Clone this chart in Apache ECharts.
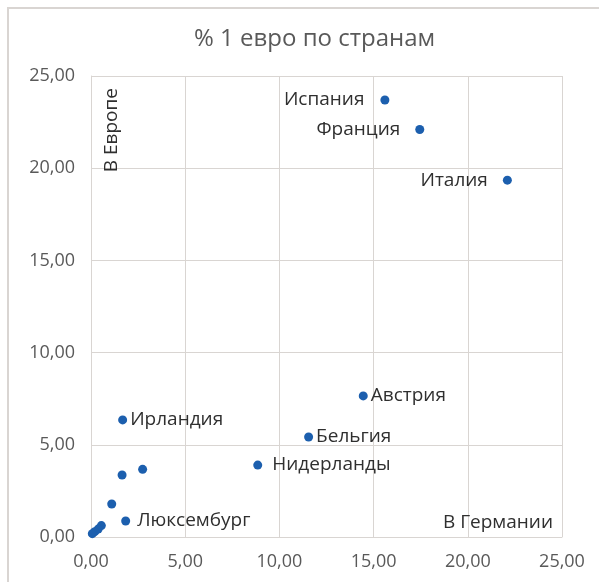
<!DOCTYPE html>
<html>
<head>
<meta charset="utf-8">
<script src="https://cdn.jsdelivr.net/npm/echarts@6/dist/echarts.min.js"></script>
<style>
  html, body { margin: 0; padding: 0; background: #ffffff; }
  #chart { width: 599px; height: 582px; }
</style>
</head>
<body>
<div id="chart"></div>
<script>
// Share of the 1-euro coin by country: x = in Germany, y = in Europe (%)
const countries = ['Испания', 'Франция', 'Италия', 'Австрия', 'Бельгия', 'Нидерланды', 'Ирландия', 'Люксембург',
                   '', '', '', '', '', '', ''];
const inGermany = [15.60, 17.45, 22.10, 14.45, 11.55, 8.85, 1.68, 1.84,
                   1.65, 2.74, 1.10, 0.55, 0.38, 0.20, 0.07];
const inEurope  = [23.70, 22.10, 19.35, 7.65, 5.42, 3.90, 6.35, 0.87,
                   3.36, 3.67, 1.79, 0.62, 0.43, 0.29, 0.18];
const axisTicks = [0, 5, 10, 15, 20, 25];

// label placement for the named points
const labelPlacement = {
  'Испания':    { position: 'left',  distance: 16 },
  'Франция':    { position: 'left',  distance: 15 },
  'Италия':     { position: 'left',  distance: 15 },
  'Австрия':    { position: 'right', distance: 3 },
  'Бельгия':    { position: 'right', distance: 3 },
  'Нидерланды': { position: 'right', distance: 10 },
  'Ирландия':   { position: 'right', distance: 3 },
  'Люксембург': { position: 'right', distance: 7 }
};

const points = countries.map((name, i) => {
  const item = { name: name, value: [inGermany[i], inEurope[i]] };
  if (name) {
    item.label = Object.assign({ show: true, formatter: '{b}' }, labelPlacement[name]);
  }
  return item;
});

const fmt = v => v.toFixed(2).replace('.', ',');
const FONT = '"Open Sans", "Noto Sans", sans-serif';
const TEXT_DARK = '#2f2f2f';

const chart = echarts.init(document.getElementById('chart'), null, { renderer: 'canvas' });
chart.setOption({
  backgroundColor: '#ffffff',
  animation: false,
  title: {
    text: '% 1 евро по странам',
    left: 189,
    top: 22,
    textStyle: { fontFamily: FONT, fontSize: 24, fontWeight: 'normal', color: '#595959' }
  },
  graphic: [{
    type: 'rect',
    shape: { x: 8, y: 8, width: 620, height: 600 },
    style: { fill: 'none', stroke: '#d9d5d2', lineWidth: 2 },
    silent: true,
    z: -10
  }],
  grid: { left: 91, top: 76, right: 37, bottom: 45, containLabel: false },
  xAxis: {
    type: 'value',
    min: axisTicks[0],
    max: axisTicks[axisTicks.length - 1],
    interval: axisTicks[1] - axisTicks[0],
    name: 'В Германии',
    nameLocation: 'end',
    nameGap: -9,
    nameTextStyle: {
      fontFamily: FONT, fontSize: 19, color: TEXT_DARK,
      align: 'right', verticalAlign: 'bottom', padding: [0, 0, 5, 0]
    },
    axisLine: { show: true, lineStyle: { color: '#d9d5d2', width: 1 } },
    axisTick: { show: false },
    splitLine: { show: true, lineStyle: { color: '#d9d5d2', width: 1 } },
    axisLabel: { fontFamily: FONT, fontSize: 18, color: '#595959', margin: 16, formatter: fmt }
  },
  yAxis: {
    type: 'value',
    min: axisTicks[0],
    max: axisTicks[axisTicks.length - 1],
    interval: axisTicks[1] - axisTicks[0],
    name: 'В Европе',
    nameLocation: 'end',
    nameRotate: 90,
    nameGap: -12,
    nameTextStyle: {
      fontFamily: FONT, fontSize: 19, color: TEXT_DARK,
      align: 'right', verticalAlign: 'top', padding: [11, 0, 0, 0]
    },
    axisLine: { show: true, lineStyle: { color: '#d9d5d2', width: 1 } },
    axisTick: { show: false },
    splitLine: { show: true, lineStyle: { color: '#d9d5d2', width: 1 } },
    axisLabel: { fontFamily: FONT, fontSize: 18, color: '#595959', margin: 16, formatter: fmt }
  },
  series: [{
    type: 'scatter',
    symbol: 'circle',
    symbolSize: 9,
    itemStyle: { color: '#1c5fae', opacity: 1 },
    label: { show: false, fontFamily: FONT, fontSize: 19, color: TEXT_DARK },
    data: points
  }]
});
</script>
</body>
</html>
